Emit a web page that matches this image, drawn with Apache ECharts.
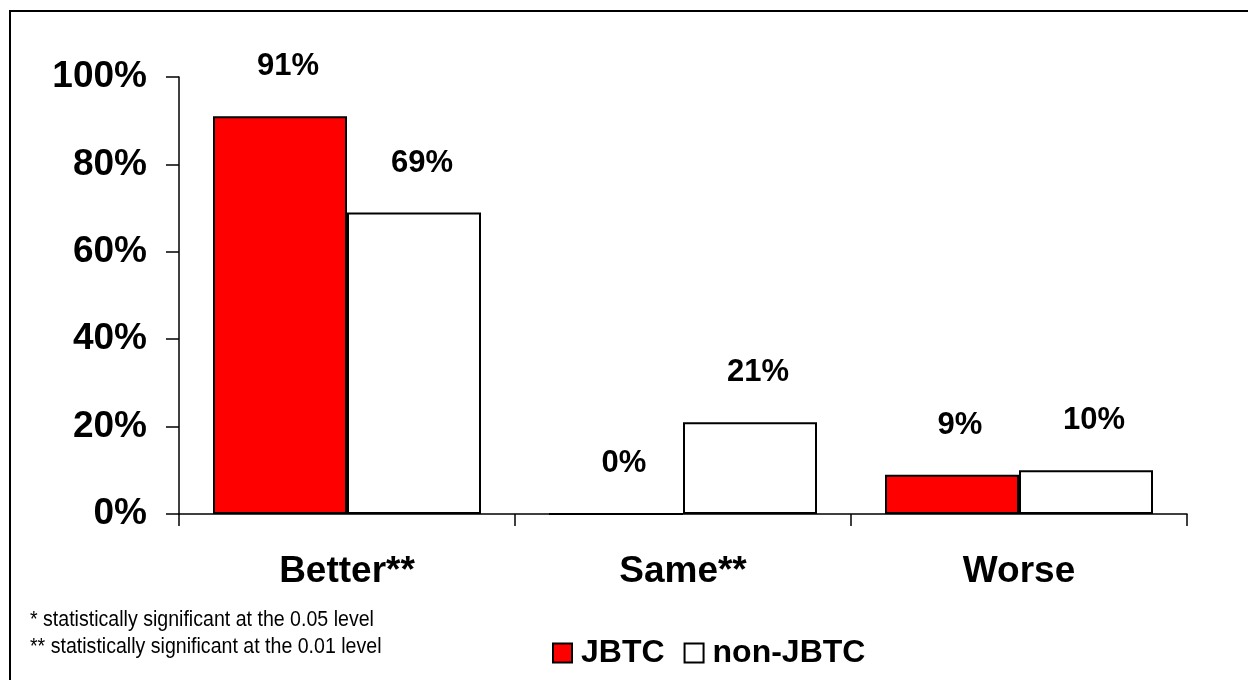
<!DOCTYPE html>
<html>
<head>
<meta charset="utf-8">
<script src="https://cdn.jsdelivr.net/npm/echarts@6/dist/echarts.min.js"></script>
<style>
html, body { margin: 0; padding: 0; background: #fff; }
#chart { width: 1248px; height: 680px; }
</style>
</head>
<body>
<div id="chart"></div>
<script>
var categories = ['Better**', 'Same**', 'Worse'];
var jbtc = [91, 0, 9];
var nonJbtc = [69, 21, 10];
var yTicks = [0, 20, 40, 60, 80, 100];
var footnotes = ['* statistically significant at the 0.05 level', '** statistically significant at the 0.01 level'];

var myChart = echarts.init(document.getElementById('chart'));
var font = 'Liberation Sans, Arial, sans-serif';
var labelStyle = {
    show: true,
    position: 'top',
    distance: 34,
    offset: [8, 0],
    formatter: '{c}%',
    color: '#000',
    fontFamily: font,
    fontWeight: 'bold',
    fontSize: 31
};
var noteFont = '22px "Liberation Sans", Arial, sans-serif';
var option = {
    animation: false,
    backgroundColor: '#fff',
    grid: { left: 179, right: 61, top: 77, bottom: 166 },
    legend: {
        left: 547,
        top: 632,
        itemWidth: 19,
        itemHeight: 19,
        itemGap: 19,
        icon: 'rect',
        textStyle: { color: '#000', fontFamily: font, fontWeight: 'bold', fontSize: 32, padding: [0, 0, 0, 4] },
        data: ['JBTC', 'non-JBTC']
    },
    xAxis: {
        type: 'category',
        data: categories,
        axisLine: { lineStyle: { color: '#000', width: 1.5 } },
        axisTick: { show: true, length: 12, lineStyle: { color: '#000', width: 1.5 } },
        axisLabel: { color: '#000', fontFamily: font, fontWeight: 'bold', fontSize: 37, margin: 39 }
    },
    yAxis: {
        type: 'value',
        min: yTicks[0],
        max: yTicks[yTicks.length - 1],
        interval: 20,
        splitLine: { show: false },
        axisLine: { show: true, lineStyle: { color: '#000', width: 1.5 } },
        axisTick: { show: true, length: 13, lineStyle: { color: '#000', width: 1.5 } },
        axisLabel: { color: '#000', fontFamily: font, fontWeight: 'bold', fontSize: 37, margin: 32, formatter: '{value}%' }
    },
    graphic: [
        {
            type: 'rect',
            shape: { x: 10, y: 11, width: 1400, height: 800 },
            style: { fill: 'none', stroke: '#000', lineWidth: 2 },
            silent: true
        },
        {
            type: 'text',
            x: 30, y: 609,
            scaleX: 0.89,
            style: { text: footnotes[0], fill: '#000', font: noteFont }
        },
        {
            type: 'text',
            x: 30, y: 636,
            scaleX: 0.89,
            style: { text: footnotes[1], fill: '#000', font: noteFont }
        }
    ],
    series: [
        {
            name: 'JBTC',
            type: 'bar',
            barWidth: 134,
            barGap: '0%',
            data: jbtc,
            itemStyle: { color: '#ff0000', borderColor: '#000', borderWidth: 2 },
            label: labelStyle
        },
        {
            name: 'non-JBTC',
            type: 'bar',
            barWidth: 134,
            barGap: '0%',
            data: nonJbtc,
            itemStyle: { color: '#ffffff', borderColor: '#000', borderWidth: 2 },
            label: labelStyle
        }
    ]
};
myChart.setOption(option);
</script>
</body>
</html>
